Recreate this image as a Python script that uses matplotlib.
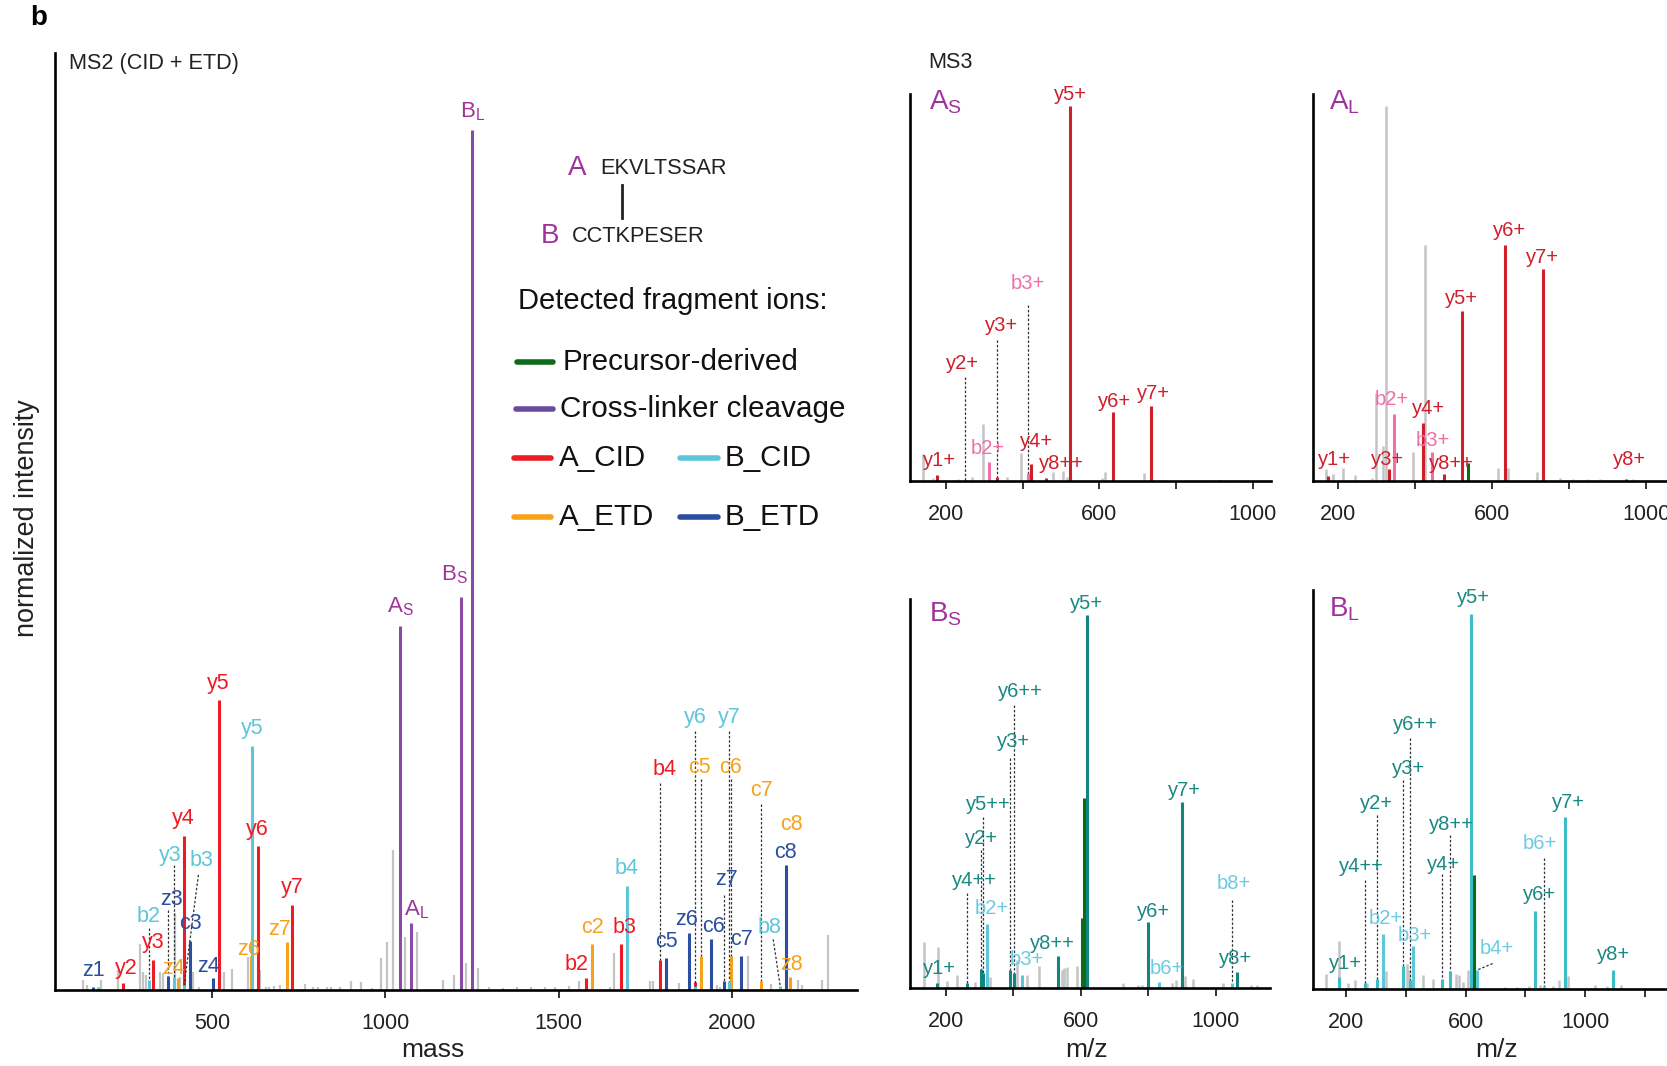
import matplotlib.pyplot as plt
from matplotlib.lines import Line2D

plt.rcParams['font.family'] = ['Liberation Sans', 'DejaVu Sans']
plt.rcParams['mathtext.fontset'] = 'custom'
plt.rcParams['mathtext.rm'] = 'Liberation Sans'

# ---------------- MS2 (CID + ETD) ----------------
ms2_gray_mz = [128, 139, 180, 229, 291, 301, 310, 349, 359, 392, 407, 443, 462, 534, 558, 604, 638,
               655, 665, 678, 695, 768, 790, 805, 830, 842, 870, 902, 929, 960, 987, 1006, 1023,
               1056, 1090, 1165, 1199, 1233, 1268, 1300, 1340, 1380, 1420, 1460, 1490, 1530, 1560,
               1649, 1661, 1764, 1774, 1849, 1959, 1967, 2048, 2113, 2192, 2202, 2260, 2279]
ms2_gray_int = [1.2, 0.6, 1.2, 2.3, 5.4, 2.1, 1.7, 2.1, 2.0, 8.9, 1.5, 2.1, 0.4, 2.1, 2.5, 3.8, 2.3,
                0.4, 0.4, 0.5, 0.6, 0.7, 0.3, 0.3, 0.4, 0.3, 0.3, 1.1, 0.9, 0.2, 3.7, 5.6, 16.3,
                6.2, 6.8, 1.2, 1.7, 3.1, 2.6, 0.3, 0.2, 0.4, 0.3, 0.3, 0.4, 0.5, 1.0,
                0.4, 4.3, 1.0, 1.0, 0.85, 0.6, 0.4, 4.0, 0.7, 1.2, 0.6, 1.2, 6.4]

ms2_xl_mz = [1042, 1074, 1218, 1251]
ms2_xl_int = [42.4, 7.8, 45.7, 100]
ms2_xl_lab = [r'A$_\mathregular{S}$', r'A$_\mathregular{L}$', r'B$_\mathregular{S}$', r'B$_\mathregular{L}$']

ms2_acid_mz = [243, 330, 417, 518, 631, 731, 1579, 1680, 1793, 1895]
ms2_acid_int = [0.85, 3.5, 17.9, 33.7, 16.7, 9.9, 1.45, 5.4, 3.5, 0.9]
ms2_acid_lab = ['y2', 'y3', 'y4', 'y5', 'y6', 'y7', 'b2', 'b3', 'b4', '']

ms2_bcid_mz = [171, 317, 389, 419, 615, 1697, 1893, 1992, 2140]
ms2_bcid_int = [0.3, 1.2, 1.5, 0.6, 28.4, 12.1, 0.5, 1.0, 0.5]
ms2_bcid_lab = ['', 'b2', 'y3', 'b3', 'y5', 'b4', 'y6', 'y7', 'b8']

ms2_aetd_mz = [402, 611, 715, 1598, 1911, 1998, 2085, 2157, 2168]
ms2_aetd_int = [1.4, 3.9, 5.6, 5.3, 3.9, 4.0, 1.0, 1.0, 1.5]
ms2_aetd_lab = ['z4', 'z6', 'z7', 'c2', 'c5', 'c6', 'c7', 'c8', 'z8']

ms2_betd_mz = [155, 373, 436, 501, 1811, 1876, 1941, 1978, 2027, 2157]
ms2_betd_int = [0.4, 1.6, 5.7, 1.4, 3.7, 6.6, 5.9, 1.1, 3.9, 14.5]
ms2_betd_lab = ['z1', 'z3', 'c3', 'z4', 'c5', 'z6', 'c6', 'z7', 'c7', 'c8']

# ---------------- MS3, A short ----------------
as_gray_mz = [141, 167, 232, 267, 296, 360, 395, 480, 504, 515, 606, 615, 717, 860, 900, 950, 1000]
as_gray_int = [7.2, 0.6, 0.4, 1.1, 15.1, 1.1, 7.4, 2.4, 2.7, 1.1, 0.6, 2.4, 2.0, 0.3, 0.3, 0.3, 0.3]
as_y_mz = [177, 250, 334, 422, 460, 523.5, 635, 734, 915]
as_y_int = [1.4, 0.3, 1.1, 4.5, 0.8, 100, 18.3, 20.0, 0.3]
as_y_lab = ['y1+', 'y2+', 'y3+', 'y4+', 'y8++', 'y5+', 'y6+', 'y7+', '']
as_b_mz = [313, 413]
as_b_int = [5.1, 2.1]
as_b_lab = ['b2+', 'b3+']

# ---------------- MS3, A long ----------------
al_gray_mz = [168, 187, 213, 243, 287, 298, 315, 324, 395, 425, 616, 642, 716, 776, 810, 850, 880, 967]
al_gray_int = [3.1, 1.9, 3.4, 1.6, 0.9, 23.4, 9.2, 100, 7.8, 63, 3.4, 3.4, 2.5, 0.9, 0.5, 0.5, 0.5, 0.4]
al_y_mz = [174, 332, 419, 475, 522, 634, 733, 948]
al_y_int = [1.3, 3.2, 15.4, 1.8, 45.4, 63, 56.4, 0.6]
al_y_lab = ['y1+', 'y3+', 'y4+', 'y8++', 'y5+', 'y6+', 'y7+', 'y8+']
al_b_mz = [345, 443]
al_b_int = [17.9, 7.8]
al_b_lab = ['b2+', 'b3+']
al_pre_mz = [538]
al_pre_int = [4.7]

# ---------------- MS3, B short ----------------
bs_gray_mz = [135, 177, 202, 232, 286, 331, 410, 441, 477, 543, 550, 558, 588, 724, 771, 781,
              870, 883, 909, 934, 1023, 1104, 1122]
bs_gray_int = [12.5, 11.1, 2.0, 3.5, 1.8, 2.9, 7.6, 3.5, 5.9, 5.0, 5.5, 5.8, 5.9, 1.5, 0.9, 0.9,
               1.3, 2.2, 3.3, 2.4, 1.5, 0.9, 0.9]
bs_y_mz = [174, 261, 303, 309, 390, 402, 531, 617.5, 800, 901, 1062.5]
bs_y_int = [1.5, 1.5, 5.3, 4.0, 4.9, 4.0, 8.6, 100, 17.8, 49.8, 4.4]
bs_y_lab = ['y1+', 'y4++', 'y2+', 'y5++', 'y3+', 'y6++', 'y8++', 'y5+', 'y6+', 'y7+', 'y8+']
bs_b_mz = [321, 424.5, 832, 1048]
bs_b_int = [17.2, 3.5, 1.8, 1.3]
bs_b_lab = ['b2+', 'b3+', 'b6+', 'b8+']
bs_pre_mz = [603, 609]
bs_pre_int = [18.7, 51.1]

# ---------------- MS3, B long ----------------
bl_gray_mz = [133, 178, 205, 230, 269, 334, 403, 412, 456, 490, 568, 579, 590, 609, 732, 771,
              813, 849, 893, 914, 944, 1033, 1072, 1120]
bl_gray_int = [4.1, 12.7, 1.7, 2.4, 1.7, 4.9, 6.8, 5.0, 3.7, 2.8, 4.0, 3.7, 1.9, 5.0, 0.6, 0.6,
               0.8, 1.1, 0.8, 2.4, 3.5, 1.1, 0.8, 1.1]
bl_y_mz = [176, 263.5, 305, 392, 414, 520, 548, 618, 831, 932.5, 1092]
bl_y_int = [3.3, 1.5, 2.6, 6.2, 2.4, 2.8, 4.9, 100, 20.9, 46, 5.2]
bl_y_lab = ['y1+', 'y4++', 'y2+', 'y3+', 'y6++', 'y4+', 'y8++', 'y5+', 'y6+', 'y7+', 'y8+']
bl_b_mz = [323, 423, 637, 862]
bl_b_int = [14.6, 11.6, 5.0, 0.8]
bl_b_lab = ['b2+', 'b3+', 'b4+', 'b6+']
bl_pre_mz = [628]
bl_pre_int = [30.3]

# colours
GRAY = '#c4c4c4'
PURPLE = '#8c4aa8'
PURPLE_TXT = '#a0339a'
RED = '#ed1c24'
LBLUE = '#5ec6da'
ORANGE = '#f7a21b'
DBLUE = '#2b4ea2'
GREEN = '#0b6b1a'
RED3 = '#cf1f2b'
PINK = '#f26ea6'
TEAL = '#13857f'
TEAL_TXT = '#1a8883'
CYAN = '#3dbdc8'
LBLUE_TXT = '#6ccbe0'

W, H = 1667, 1066
fig = plt.figure(figsize=(W / 100, H / 100), dpi=100)


def ax_px(x0, y0, x1, y1):
    return fig.add_axes([x0 / W, 1 - y1 / H, (x1 - x0) / W, (y1 - y0) / H])


def ftext(x, y, s, **kw):
    fig.text(x / W, 1 - y / H, s, **kw)


def fline(xs, ys, **kw):
    fig.add_artist(Line2D([x / W for x in xs], [1 - y / H for y in ys],
                          transform=fig.transFigure, **kw))


def setup(ax, xlim, ylim, ticks, shown):
    ax.set_xlim(*xlim)
    ax.set_ylim(*ylim)
    ax.spines['top'].set_visible(False)
    ax.spines['right'].set_visible(False)
    ax.spines['left'].set_linewidth(1.9)
    ax.spines['bottom'].set_linewidth(1.9)
    ax.set_yticks([])
    ax.set_xticks(ticks)
    ax.set_xticklabels([str(t) if t in shown else '' for t in ticks])
    ax.tick_params(axis='x', length=6, width=1.3, pad=10.5, labelsize=15.5, colors='#222222')
    ax.patch.set_alpha(0)


def peaks(ax, mz, inten, color, lw=2.2):
    ax.vlines(mz, 0, inten, colors=color, lw=lw)


def labels(ax, mz, inten, labs, color, place, off, fs):
    for m, h, s in zip(mz, inten, labs):
        if not s:
            continue
        x, y, lead = place.get(s, (m, h + off, None))
        if lead is not None:
            if isinstance(lead, tuple):
                ax.plot([lead[0], m], [lead[1], h], color='#333333', lw=0.9,
                        ls=(0, (2, 1.5)), clip_on=False)
            else:
                ax.plot([m, m], [lead, h], color='#333333', lw=0.9,
                        ls=(0, (2, 1.5)), clip_on=False)
        ax.text(x, y, s, color=color, fontsize=fs, ha='center', va='center', clip_on=False)


# ---------------- main MS2 panel ----------------
ax = ax_px(55, 53, 857, 990)
setup(ax, (45.8, 2362), (0, 109), [500, 1000, 1500, 2000], [500, 1000, 1500, 2000])

place_acid = {'y2': (253, 2.5, None), 'b2': (1552, 3.0, None), 'b3': (1690, 7.3, None),
              'b4': (1807, 25.7, 24.1)}
place_bcid = {'b2': (315, 8.5, 7.2), 'y3': (378, 15.7, 14.5), 'b3': (469, 15.1, (460, 13.4)),
              'y6': (1894, 31.7, 30.1), 'y7': (1993, 31.7, 30.1), 'b8': (2109, 7.3, (2120, 5.9))}
place_aetd = {'z4': (389, 2.5, None), 'z6': (604, 4.7, None), 'z7': (695, 7.0, None),
              'c5': (1907, 25.9, 24.5), 'c6': (1998, 25.9, 24.5), 'c7': (2085, 23.2, 21.6),
              'c8': (2174, 19.2, None), 'z8': (2173, 3.0, None)}
place_betd = {'z1': (156, 2.3, None), 'z3': (383, 10.5, 9.3), 'z4': (490, 2.7, None),
              'c6': (1949, 7.4, None), 'z7': (1984, 12.9, 11.1), 'z6': (1870, 8.2, None),
              'c8': (2154, 16.0, None)}
place_xl = {ms2_xl_lab[1]: (1090, 9.3, None), ms2_xl_lab[2]: (1198, 48.3, None)}

peaks(ax, ms2_gray_mz, ms2_gray_int, GRAY, 1.6)
peaks(ax, ms2_aetd_mz, ms2_aetd_int, ORANGE)
peaks(ax, ms2_acid_mz, ms2_acid_int, RED)
peaks(ax, ms2_bcid_mz, ms2_bcid_int, LBLUE)
peaks(ax, ms2_betd_mz, ms2_betd_int, DBLUE)
peaks(ax, ms2_xl_mz, ms2_xl_int, PURPLE)
labels(ax, ms2_acid_mz, ms2_acid_int, ms2_acid_lab, RED, place_acid, 2.0, 15.5)
labels(ax, ms2_bcid_mz, ms2_bcid_int, ms2_bcid_lab, LBLUE, place_bcid, 2.0, 15.5)
labels(ax, ms2_aetd_mz, ms2_aetd_int, ms2_aetd_lab, ORANGE, place_aetd, 2.0, 15.5)
labels(ax, ms2_betd_mz, ms2_betd_int, ms2_betd_lab, DBLUE, place_betd, 2.0, 15.5)
labels(ax, ms2_xl_mz, ms2_xl_int, ms2_xl_lab, PURPLE_TXT, place_xl, 2.2, 16)

# ---------------- MS3 panels ----------------
ms3_ticks = [200, 400, 600, 800, 1000]
ms3_shown = [200, 600, 1000]

# A short
ax1 = ax_px(910, 93.6, 1271, 480.7)
setup(ax1, (106, 1048), (0, 103.3), ms3_ticks, ms3_shown)
peaks(ax1, as_gray_mz, as_gray_int, GRAY, 1.8)
peaks(ax1, as_b_mz, as_b_int, PINK)
peaks(ax1, as_y_mz, as_y_int, RED3)
place_as = {'y1+': (184, 5.5, None), 'y2+': (243.5, 31.3, 27.8), 'y3+': (345, 41.3, 37.5),
            'y4+': (436.5, 10.4, None), 'y8++': (502, 4.6, None), 'y6+': (641, 21.1, None),
            'y7+': (741, 23.3, None), 'b2+': (310, 8.6, None), 'b3+': (413, 52.7, 46.9)}
labels(ax1, as_y_mz, as_y_int, as_y_lab, RED3, place_as, 3.1, 14.5)
labels(ax1, as_b_mz, as_b_int, as_b_lab, PINK, place_as, 3.1, 14.5)

# A long
ax2 = ax_px(1313, 93.6, 1667, 481)
setup(ax2, (134.2, 1054.6), (0, 103.3), ms3_ticks, ms3_shown)
peaks(ax2, al_gray_mz, al_gray_int, GRAY, 1.8)
peaks(ax2, al_pre_mz, al_pre_int, GREEN)
peaks(ax2, al_b_mz, al_b_int, PINK)
peaks(ax2, al_y_mz, al_y_int, RED3)
place_al = {'y1+': (191, 5.6, None), 'y3+': (327.5, 5.8, None), 'y4+': (434, 19.4, None),
            'y8++': (495, 4.7, None), 'y5+': (521, 48.7, None), 'y6+': (646, 66.9, None),
            'y7+': (732, 59.5, None), 'y8+': (958.5, 5.8, None), 'b2+': (339, 21.6, None),
            'b3+': (445, 10.8, None)}
labels(ax2, al_y_mz, al_y_int, al_y_lab, RED3, place_al, 3.1, 14.5)
labels(ax2, al_b_mz, al_b_int, al_b_lab, PINK, place_al, 3.1, 14.5)

# B short
ax3 = ax_px(910, 598.5, 1270, 988.3)
setup(ax3, (93.2, 1161.4), (0, 104.4), ms3_ticks, ms3_shown)
peaks(ax3, bs_gray_mz, bs_gray_int, GRAY, 1.8)
peaks(ax3, bs_pre_mz, bs_pre_int, GREEN)
peaks(ax3, bs_b_mz, bs_b_int, LBLUE)
peaks(ax3, bs_y_mz, bs_y_int, TEAL)
place_bs = {'y1+': (182, 5.3, None), 'y4++': (284, 29.0, 25.6), 'y2+': (306, 40.2, 37.0),
            'y5++': (325.6, 49.1, 46.0), 'y3+': (400, 66.0, 61.6), 'y6++': (419.6, 79.5, 75.9),
            'y8++': (516.5, 12.0, None), 'y6+': (817, 20.5, None), 'y7+': (909, 52.9, None),
            'y8+': (1059.6, 8.0, None), 'b2+': (335.5, 21.4, None), 'b3+': (439.4, 7.6, None),
            'b6+': (855, 5.3, None), 'b8+': (1054.6, 28.1, 23.7)}
labels(ax3, bs_y_mz, bs_y_int, bs_y_lab, TEAL_TXT, place_bs, 3.1, 14.5)
labels(ax3, bs_b_mz, bs_b_int, bs_b_lab, LBLUE_TXT, place_bs, 3.1, 14.5)

# B long
ax4 = ax_px(1313, 590, 1667, 989)
setup(ax4, (89.6, 1273.6), (0, 106.5), [200, 400, 600, 800, 1000, 1200], ms3_shown)
peaks(ax4, bl_gray_mz, bl_gray_int, GRAY, 1.8)
peaks(ax4, bl_pre_mz, bl_pre_int, GREEN)
peaks(ax4, bl_b_mz, bl_b_int, LBLUE)
peaks(ax4, bl_y_mz, bl_y_int, CYAN)
place_bl = {'y1+': (197, 6.9, None), 'y4++': (252.4, 32.7, 29.1), 'y2+': (302.6, 49.6, 46.4),
            'y3+': (408.5, 58.9, 55.8), 'y6++': (430.8, 70.5, 66.9), 'y4+': (527.8, 33.1, 30.7),
            'y8++': (553.4, 43.8, 41.1), 'y5+': (626, 104.5, None), 'y6+': (846.6, 25.1, None),
            'y7+': (943.6, 49.8, None), 'y8+': (1094, 9.1, None), 'b2+': (333.8, 18.9, None),
            'b3+': (430.8, 14.4, None), 'b4+': (704, 10.8, (690.5, 6.8)),
            'b6+': (849, 38.9, 34.9)}
labels(ax4, bl_y_mz, bl_y_int, bl_y_lab, TEAL_TXT, place_bl, 3.1, 14.5)
labels(ax4, bl_b_mz, bl_b_int, bl_b_lab, LBLUE_TXT, place_bl, 3.1, 14.5)

# panel names
ftext(929, 102, r'A$_\mathregular{S}$', fontsize=20, color=PURPLE_TXT, va='center')
ftext(1329, 102, r'A$_\mathregular{L}$', fontsize=20, color=PURPLE_TXT, va='center')
ftext(929, 614, r'B$_\mathregular{S}$', fontsize=20, color=PURPLE_TXT, va='center')
ftext(1329, 609, r'B$_\mathregular{L}$', fontsize=20, color=PURPLE_TXT, va='center')

# titles and axis labels
ftext(39, 18, 'b', fontsize=20, fontweight='bold', ha='center', va='center')
ftext(69, 63, 'MS2 (CID + ETD)', fontsize=15.6, va='center', color='#222222')
ftext(928, 63, 'MS3', fontsize=15.6, va='center', color='#222222')
ftext(27, 518, 'normalized intensity', fontsize=19.4, rotation=90, ha='center', va='center',
      color='#222222')
ftext(433, 1050, 'mass', fontsize=19, ha='center', va='center', color='#222222')
ftext(1087, 1050, 'm/z', fontsize=19, ha='center', va='center', color='#222222')
ftext(1497, 1050, 'm/z', fontsize=19, ha='center', va='center', color='#222222')

# cross-linked peptides
ftext(577, 168, 'A', fontsize=20, color=PURPLE_TXT, ha='center', va='center')
ftext(600, 168, 'EKVLTSSAR', fontsize=15.7, color='#222222', va='center')
fline([622, 622], [185, 218], color='#222222', lw=2)
ftext(550, 236, 'B', fontsize=20, color=PURPLE_TXT, ha='center', va='center')
ftext(572, 236, 'CCTKPESER', fontsize=15.7, color='#222222', va='center')

# legend
ftext(518, 301, 'Detected fragment ions:', fontsize=21, va='center', color='#111111')
legend_rows = [
    (517, 553, 362, GREEN, 563, 'Precursor-derived'),
    (516, 553, 409, '#6a4b9e', 560, 'Cross-linker cleavage'),
    (514, 551, 458, RED, 559, 'A_CID'),
    (680, 718, 458, LBLUE, 725, 'B_CID'),
    (514, 551, 517, ORANGE, 559, 'A_ETD'),
    (680, 718, 517, DBLUE, 725, 'B_ETD'),
]
for x0, x1, y, c, tx, s in legend_rows:
    fline([x0, x1], [y, y], color=c, lw=4, solid_capstyle='round')
    ftext(tx, y, s, fontsize=21.3, va='center', color='#111111')

fig.savefig('out.png', dpi=100)
